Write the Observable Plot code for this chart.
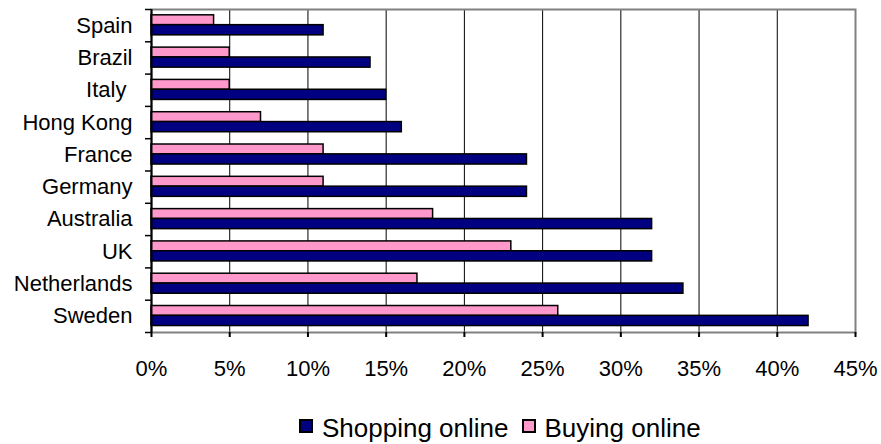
<!DOCTYPE html>
<html>
<head>
<meta charset="utf-8">
<script src="https://cdn.jsdelivr.net/npm/d3@7"></script>
<script src="https://cdn.jsdelivr.net/npm/@observablehq/plot@0.6"></script>
<style>
  html, body { margin: 0; padding: 0; background: #fff; }
  body { width: 881px; height: 444px; overflow: hidden; font-family: "Liberation Sans", Arial, sans-serif; }
  #chart svg text { white-space: pre; }
  #legend { display: flex; align-items: center; margin-left: 299px; margin-top: 13px; font-size: 26px; line-height: 30px; color: #000; }
  .item { display: flex; align-items: center; margin-right: 13px; }
  .sw { width: 14px; height: 14px; box-sizing: border-box; border: 2px solid #000; margin-right: 9px; margin-top: -4px; }
</style>
</head>
<body>
<div id="chart"></div>
<div id="legend"></div>
<script>
const countries = ["Spain", "Brazil", "Italy ", "Hong Kong", "France", "Germany", "Australia", "UK", "Netherlands", "Sweden"];
const shopping = [11, 14, 15, 16, 24, 24, 32, 32, 34, 42];
const buying = [4, 5, 5, 7, 11, 11, 18, 23, 17, 26];
const seriesNames = ["Shopping online", "Buying online"];
const seriesColors = ["#000080", "#FF99CC"];
const xTicks = [0, 5, 10, 15, 20, 25, 30, 35, 40, 45];
const gridTicks = [5, 10, 15, 20, 25, 30, 35, 40];

const rows = countries.map((c, i) => ({country: c, shopping: shopping[i], buying: buying[i]}));

const W = 881, H = 400, MT = 9, MB = 68, ML = 151, MR = 26;
const bw = (H - MT - MB) / countries.length;

const chart = Plot.plot({
  width: W, height: H,
  marginTop: MT, marginBottom: MB, marginLeft: ML, marginRight: MR,
  style: {fontFamily: "'Liberation Sans', Arial, sans-serif", fontSize: "22px", color: "#000", background: "#fff"},
  x: {domain: [0, 45], axis: null},
  y: {domain: countries, padding: 0, round: false, axis: null},
  marks: [
    Plot.ruleX(gridTicks, {stroke: "#000", strokeWidth: 1}),
    Plot.frame({stroke: "#808080", strokeWidth: 2}),
    Plot.barX(rows, {y: "country", x: "buying", fill: seriesColors[1], stroke: "#000", strokeWidth: 1.5,
      insetTop: bw * 0.18, insetBottom: bw * 0.515}),
    Plot.barX(rows, {y: "country", x: "shopping", fill: seriesColors[0], stroke: "#000", strokeWidth: 1.5,
      insetTop: bw * 0.485, insetBottom: bw * 0.2}),
    Plot.ruleX([0], {stroke: "#000", strokeWidth: 2}),
    Plot.axisX({ticks: xTicks, tickFormat: d => d + "%", tickSize: 5, tickPadding: 23, line: true,
      stroke: "#000", strokeWidth: 2, fontSize: 22, fill: "#000", label: null}),
    Plot.axisY({tickSize: 0, tickPadding: 19, fontSize: 22, fill: "#000", label: null}),
    Plot.axisY({tickSize: 6, text: null, stroke: "#000", strokeWidth: 1.5, dy: -bw / 2, label: null}),
    Plot.axisY({ticks: countries.slice(-1), tickSize: 6, text: null, stroke: "#000", strokeWidth: 1.5, dy: bw / 2, label: null})
  ]
});
document.getElementById("chart").appendChild(chart);

const legend = document.getElementById("legend");
seriesNames.forEach((name, i) => {
  const item = document.createElement("div");
  item.className = "item";
  const sw = document.createElement("span");
  sw.className = "sw";
  sw.style.background = seriesColors[i];
  const t = document.createElement("span");
  t.textContent = name;
  item.appendChild(sw);
  item.appendChild(t);
  legend.appendChild(item);
});
</script>
</body>
</html>
